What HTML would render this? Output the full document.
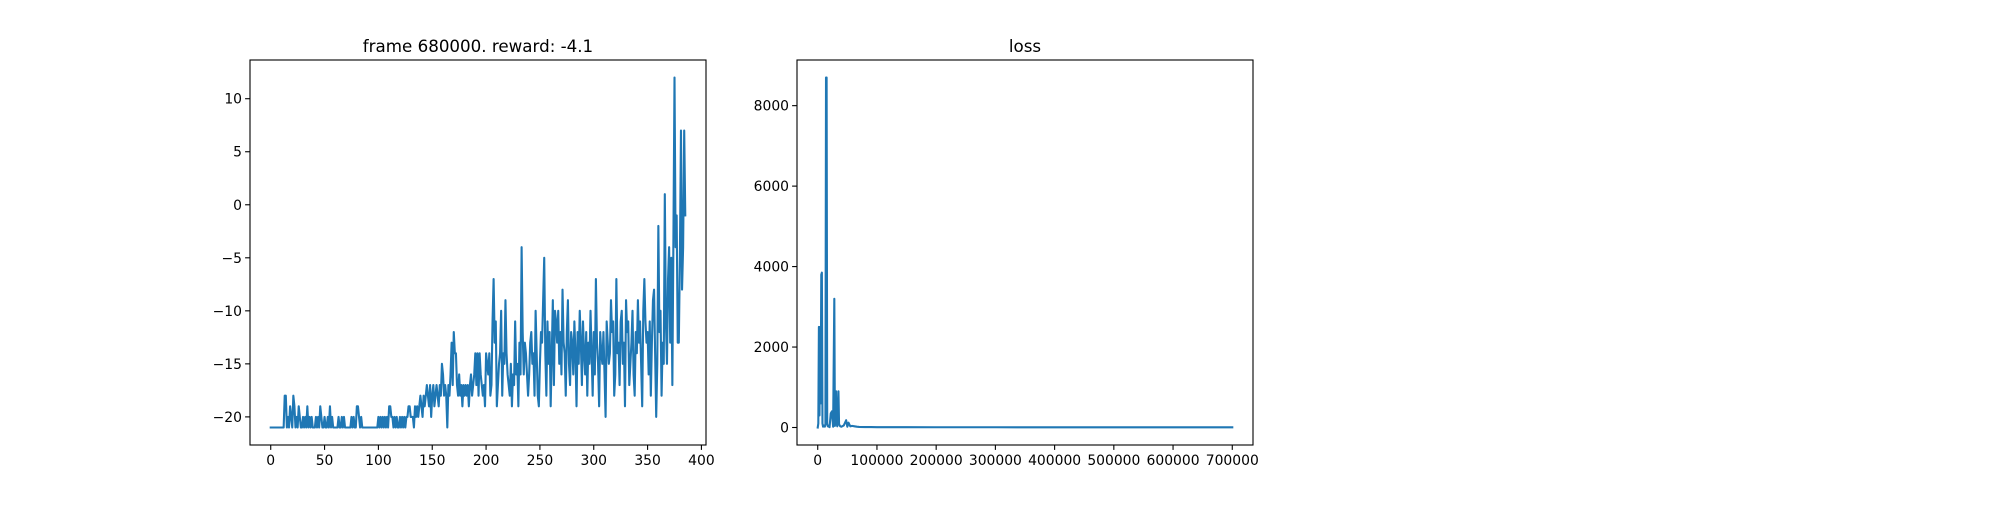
<!DOCTYPE html>
<html><head><meta charset="utf-8"><style>
html,body{margin:0;padding:0;background:#fff;}
svg text{font-family:"DejaVu Sans","Liberation Sans",sans-serif;fill:#000;}
</style></head>
<body>
<svg id="fig" width="2000" height="500" xmlns="http://www.w3.org/2000/svg">
<rect width="2000" height="500" fill="#fff"/>
</svg>
<script>
const rewardValues = [
-21,-21,-21,-21,-21,-21,-21,-21,-21,-21,-21,-21,-21,
-18,-18,-21,-20,-21,-19,-20,-21,-18,-19,-21,-20,-21,-19,-20,-21,-21,-20,-21,-20,-21,-19,-21,-20,-21,-20,-21,
-21,-21,-20,-21,-20,-21,-19,-20,-21,-21,-20,-21,-21,-20,-21,-19,-21,-20,-21,-21,-21,-21,-21,-20,-21,-21,-20,-21,-20,-21,
-21,-21,-21,-21,-21,-20,-21,-20,-21,-21,-19,-19,-20,-21,-20,-21,-21,-21,-21,-21,-21,-21,-21,-21,-21,-21,-21,-21,-21,-21,
-20,-21,-20,-21,-20,-21,-20,-21,-20,-21,-19,-19,-20,-20,-21,-20,-21,-20,-21,-21,-20,-21,-20,-21,-20,-21,-20,-20,-19,-19,
-20,-20,-20,-21,-19,-20,-19,-20,-19,-18,-19,-20,-18,-19,-18,-17,-18,-19,-17,-20,-18,-17,-19,-18,-17,-18,-19,-17,-18,-15,
-16,-18,-17,-18,-21,-17,-18,-16,-13,-17,-12,-14,-14,-17,-18,-16,-18,-17,-19,-17,-18,-17,-18,-17,-19,-17,-16,-18,-17,-16,
-14,-17,-14,-18,-14,-16,-17,-18,-17,-19,-14,-15,-16,-14,-18,-17,-11,-7,-13,-11,-19,-17,-15,-14,-10,-18,-14,-15,-9,-14,
-16,-17,-18,-15,-19,-16,-17,-11,-16,-15,-19,-13,-16,-4,-12,-16,-13,-14,-16,-18,-16,-13,-12,-15,-14,-18,-10,-14,-18,-19,
-15,-12,-13,-9,-5,-14,-18,-11,-15,-12,-19,-14,-9,-17,-10,-11,-13,-10,-15,-12,-16,-8,-13,-14,-18,-12,-9,-15,-17,-12,
-13,-16,-11,-14,-19,-12,-15,-10,-13,-17,-11,-14,-16,-12,-18,-13,
-15,-10,-14,-18,-12,-16,-7,-13,-15,-19,-12,-14,-15,-12,-16,-20,-11,-13,-15,-14,-9,-12,-11,-18,-16,-7,-14,-13,-17,-11,
-10,-15,-13,-19,-9,-12,-11,-17,-15,-13,-10,-16,-18,-12,-14,-9,-13,-11,-15,-19,-10,-7,-11,-13,-12,-16,-11,-18,-13,-9,
-8,-14,-20,-15,-2,-12,-10,-18,-13,-15,1,-11,-15,-7,-4,-13,-5,-17,-3,12,-4,-1,-13,-13,-5,7,-8,-4,7,-1
];
const rewardTicksX = [0,50,100,150,200,250,300,350,400];
const rewardTicksY = [-20,-15,-10,-5,0,5,10];
const lossFrames = [0,1000,2000,3000,4000,5000,6000,7000,8000,9000,10000,11000,12000,13000,14000,15000,16000,17000,18000,19000,20000,22000,24000,26000,28000,29000,30000,31000,32000,33000,34000,35000,36000,38000,40000,44000,48000,50000,52000,55000,58000,62000,66000,70000,80000,90000,100000,150000,200000,300000,400000,500000,600000,700000];
const lossValues = [0,100,2500,300,2500,600,3800,3850,100,20,50,30,20,80,8700,8700,100,30,40,20,10,350,400,20,3200,40,500,900,100,30,150,900,80,30,20,50,180,20,120,30,40,30,20,15,10,10,8,8,6,6,5,5,5,5];
const lossTicksX = [0,100000,200000,300000,400000,500000,600000,700000];
const lossTicksY = [0,2000,4000,6000,8000];

const svg = document.getElementById('fig');
const NS = 'http://www.w3.org/2000/svg';
function mk(tag, attrs, parent){const e=document.createElementNS(NS,tag);for(const k in attrs)e.setAttribute(k,attrs[k]);(parent||svg).appendChild(e);return e;}
function fmt(v){return (v<0?'\u2212':'')+Math.abs(v);}

function drawAxes(cfg){
  const g = mk('g',{});
  
  
  const L=cfg.left,T=60,W=456,H=385;
  const xs=v=>L+(v-cfg.xmin)/(cfg.xmax-cfg.xmin)*W;
  const ys=v=>T+H-(v-cfg.ymin)/(cfg.ymax-cfg.ymin)*H;
  let d='';
  for(let i=0;i<cfg.xs.length;i++){d+=(i?'L':'M')+xs(cfg.xs[i]).toFixed(2)+','+ys(cfg.ys[i]).toFixed(2);}
  const line = mk('path',{d:d,fill:'none',stroke:'#1f77b4','stroke-width':2.1,'stroke-linejoin':'round','stroke-linecap':'square'},g);
  
  
  const frame = mk('rect',{x:L,y:T,width:W,height:H,fill:'none',stroke:'#000','stroke-width':1.1},g);
  
  
  cfg.tx.forEach(v=>{
    const x=xs(v);
    mk('line',{x1:x,x2:x,y1:T+H,y2:T+H+4.9,stroke:'#000','stroke-width':1.1},g);
    const t=mk('text',{x:x,y:T+H+20,'text-anchor':'middle','font-size':13.9},g);
    t.textContent=fmt(v);
    
    
  });
  cfg.ty.forEach(v=>{
    const y=ys(v);
    mk('line',{x1:L,x2:L-4.9,y1:y,y2:y,stroke:'#000','stroke-width':1.1},g);
    const t=mk('text',{x:L-8,y:y+5,'text-anchor':'end','font-size':13.9},g);
    t.textContent=fmt(v);
    
    
  });
  const title=mk('text',{x:L+W/2,y:52,'text-anchor':'middle','font-size':16.7},g);
  title.textContent=cfg.title;
  
  
}
const rx = rewardValues.map((_,i)=>i);
const rmin=Math.min(...rewardValues), rmax=Math.max(...rewardValues), rn=rewardValues.length-1;
drawAxes({name:'reward-chart',left:250,xs:rx,ys:rewardValues,
  xmin:-0.05*rn,xmax:rn*1.05,ymin:rmin-0.05*(rmax-rmin),ymax:rmax+0.05*(rmax-rmin),
  tx:rewardTicksX,ty:rewardTicksY,title:'frame 680000. reward: -4.1'});
const fmax=Math.max(...lossFrames), lmax=Math.max(...lossValues);
drawAxes({name:'loss-chart',left:797,xs:lossFrames,ys:lossValues,
  xmin:-0.05*fmax,xmax:fmax*1.05,ymin:-0.05*lmax,ymax:lmax*1.05,
  tx:lossTicksX,ty:lossTicksY,title:'loss'});
</script>
</body></html>
